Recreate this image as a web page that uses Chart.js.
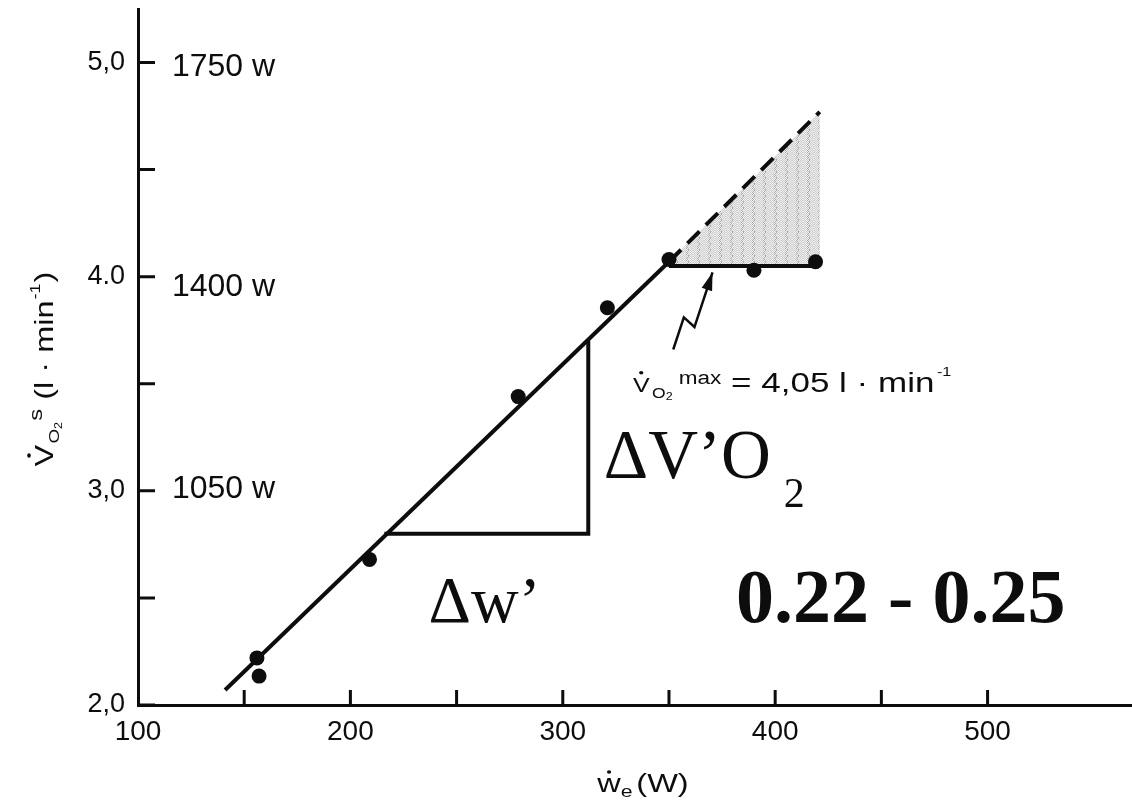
<!DOCTYPE html>
<html>
<head>
<meta charset="utf-8">
<script src="https://cdn.jsdelivr.net/npm/chart.js@4"></script>
<style>html,body{margin:0;background:#fff}</style>
</head>
<body>
<canvas id="c" width="1132" height="800"></canvas>
<script>
// Measured steady-state oxygen uptake against external work rate
const workW = [156, 157, 209, 279, 321, 350, 390, 419];
const vo2   = [2.22, 2.135, 2.68, 3.44, 3.855, 4.08, 4.03, 4.07];

// Linear fit up to the kink, and its dashed extrapolation
const fitW = [141, 350];
const fitV = [2.07, 4.07];
const extW = [350, 421];
const extV = [4.07, 4.77];

// Plateau at maximal oxygen uptake
const vo2Max = 4.05;
const plateauW = [350, 420];

// Slope triangle (Δw', ΔV'O2)
const slopeW = [216, 312, 312];
const slopeV = [2.80, 2.80, 3.70];

// Zig-zag pointer to the plateau
const arrowW = [352, 357, 362, 370.5];
const arrowV = [3.66, 3.81, 3.765, 4.02];

// Axis ticks
const xTickValues = [100, 200, 300, 400, 500];
const xTickLabels = ['100', '200', '300', '400', '500'];
const yTickValues = [2, 3, 4, 5];
const yTickLabels = ['2,0', '3,0', '4.0', '5,0'];

// Power equivalents written next to the y axis
const powerLabels = ['1050 w', '1400 w', '1750 w'];
const powerW = 116;
const powerV = [3.01, 3.95, 4.98];

const ink = '#0d0d0d';
const sans = '"Liberation Sans", Arial, sans-serif';
const serif = '"Liberation Serif", "Times New Roman", serif';

const pairs = (xs, ys) => xs.map((x, i) => ({ x, y: ys[i] }));

// grey stipple with darker vertical streaks
function stipple() {
  const c = document.createElement('canvas');
  c.width = 11; c.height = 6;
  const g = c.getContext('2d');
  g.fillStyle = '#eeeeee';
  g.fillRect(0, 0, 11, 6);
  g.fillStyle = '#cfcfcf';
  for (let yy = 0; yy < 6; yy++) {
    for (let xx = (yy % 2); xx < 11; xx += 2) g.fillRect(xx, yy, 1, 1);
  }
  g.fillStyle = '#a8a8a8';
  g.fillRect(4, 0, 1, 1); g.fillRect(5, 1, 1, 1); g.fillRect(4, 2, 1, 1);
  g.fillRect(6, 3, 1, 1); g.fillRect(6, 4, 1, 1); g.fillRect(5, 5, 1, 1);
  return g.createPattern(c, 'repeat');
}

// draws a sequence of text runs (sub/superscripts, dotted letters) left to right
function runsWidth(ctx, runs) {
  let w = 0;
  for (const r of runs) { ctx.font = r.font; w += (r.dx || 0) + ctx.measureText(r.text).width; }
  return w;
}
function drawRuns(ctx, runs) {
  let cx = 0;
  for (const r of runs) {
    ctx.font = r.font;
    cx += r.dx || 0;
    const w = ctx.measureText(r.text).width;
    const dy = r.dy || 0;
    ctx.fillText(r.text, cx, dy);
    if (r.dot) {
      ctx.beginPath();
      ctx.arc(cx + w / 2, dy - r.dot.h, r.dot.r, 0, Math.PI * 2);
      ctx.fill();
    }
    cx += w;
  }
}

const innerTicks = {
  id: 'innerTicks',
  afterDatasetsDraw(chart) {
    const { ctx, chartArea: a, scales: { x, y } } = chart;
    ctx.save();
    ctx.strokeStyle = ink;
    ctx.lineWidth = 3;
    ctx.beginPath();
    for (const t of y.ticks) {
      const p = y.getPixelForValue(t.value);
      ctx.moveTo(a.left, p); ctx.lineTo(a.left + 17, p);
    }
    for (const t of x.ticks) {
      if (t.value === x.min) continue;
      const p = x.getPixelForValue(t.value);
      ctx.moveTo(p, a.bottom); ctx.lineTo(p, a.bottom - 15);
    }
    ctx.stroke();
    ctx.restore();
  }
};

const notes = {
  id: 'notes',
  afterDatasetsDraw(chart) {
    const { ctx, chartArea: a, scales: { x, y } } = chart;
    const px = v => x.getPixelForValue(v);
    const py = v => y.getPixelForValue(v);
    const stretch = 1.25;
    ctx.save();
    ctx.fillStyle = ink;

    // power equivalents
    ctx.font = `32px ${sans}`;
    ctx.textBaseline = 'middle';
    ctx.textAlign = 'left';
    powerLabels.forEach((t, i) => ctx.fillText(t, px(powerW), py(powerV[i])));
    ctx.textBaseline = 'alphabetic';

    // V'O2max label
    const maxRuns = [
      { text: 'V', font: `20px ${sans}`, dot: { h: 19, r: 1.7 } },
      { text: 'O', font: `14px ${sans}`, dy: 6, dx: 2 },
      { text: '2', font: `10px ${sans}`, dy: 8 },
      { text: 'max', font: `18px ${sans}`, dy: -8, dx: 5 },
      { text: ' = ', font: `28px ${sans}` },
      { text: (vo2Max.toFixed(2)).replace('.', ','), font: `28px ${sans}` },
      { text: ' l · min', font: `28px ${sans}` },
      { text: '-1', font: `13px ${sans}`, dy: -16, dx: 2 }
    ];
    ctx.save();
    ctx.translate(px(333), py(3.463));
    ctx.scale(stretch, 1);
    drawRuns(ctx, maxRuns);
    ctx.restore();

    // slope triangle labels
    ctx.font = `69px ${serif}`;
    const dv = 'ΔV’O';
    ctx.fillText(dv, px(319.3), py(3.061));
    const dvEnd = px(319.3) + ctx.measureText(dv).width;
    ctx.font = `42px ${serif}`;
    ctx.fillText('2', dvEnd + 13, py(2.925));
    ctx.font = `66px ${serif}`;
    ctx.fillText('Δw’', px(236.8), py(2.388));
    ctx.font = `bold 76px ${serif}`;
    ctx.fillText('0.22 - 0.25', px(381.6), py(2.388));

    // arrow head on the zig-zag pointer
    const n = arrowW.length;
    const tx = px(arrowW[n - 1]), ty = py(arrowV[n - 1]);
    const fx = px(arrowW[n - 2]), fy = py(arrowV[n - 2]);
    const ang = Math.atan2(ty - fy, tx - fx);
    const L = 18, W = 5.5;
    ctx.beginPath();
    ctx.moveTo(tx, ty);
    ctx.lineTo(tx - L * Math.cos(ang) + W * Math.sin(ang), ty - L * Math.sin(ang) - W * Math.cos(ang));
    ctx.lineTo(tx - L * Math.cos(ang) - W * Math.sin(ang), ty - L * Math.sin(ang) + W * Math.cos(ang));
    ctx.closePath();
    ctx.fill();

    // x axis title
    const xRuns = [
      { text: 'w', font: `26px ${sans}`, dot: { h: 20, r: 1.7 } },
      { text: 'e', font: `17px ${sans}`, dy: 5 },
      { text: '(W)', font: `26px ${sans}`, dx: 3 }
    ];
    ctx.save();
    const xw = runsWidth(ctx, xRuns) * stretch;
    ctx.translate((a.left + a.right) / 2 - xw / 2 + 8, chart.height - 8);
    ctx.scale(stretch, 1);
    drawRuns(ctx, xRuns);
    ctx.restore();

    // y axis title (rotated)
    const yRuns = [
      { text: 'V', font: `26px ${sans}`, dot: { h: 24, r: 1.8 } },
      { text: 'O', font: `15px ${sans}`, dy: 6, dx: 1 },
      { text: '2', font: `10px ${sans}`, dy: 9 },
      { text: 's', font: `19px ${sans}`, dy: -11, dx: 1 },
      { text: ' (l · min', font: `26px ${sans}` },
      { text: '-1', font: `14px ${sans}`, dy: -13, dx: 1 },
      { text: ')', font: `26px ${sans}`, dx: 1 }
    ];
    ctx.save();
    const yw = runsWidth(ctx, yRuns) * stretch;
    ctx.translate(53, (a.top + a.bottom) / 2 + 12);
    ctx.rotate(-Math.PI / 2);
    ctx.translate(-yw / 2, 0);
    ctx.scale(stretch, 1);
    drawRuns(ctx, yRuns);
    ctx.restore();

    ctx.restore();
  }
};

const lineStyle = {
  showLine: true, borderColor: ink, pointRadius: 0, borderWidth: 4,
  borderCapStyle: 'butt', borderJoinStyle: 'miter', tension: 0
};

new Chart(document.getElementById('c'), {
  type: 'scatter',
  data: {
    datasets: [
      { data: pairs(workW, vo2), pointRadius: 7.5, pointBackgroundColor: ink,
        pointBorderWidth: 0, borderColor: ink, showLine: false, order: 0 },
      { ...lineStyle, data: pairs(fitW, fitV), order: 1 },
      { ...lineStyle, data: pairs(extW, extV), borderDash: [17, 9],
        fill: { value: vo2Max }, backgroundColor: stipple(), order: 3 },
      { ...lineStyle, data: pairs(plateauW, plateauW.map(() => vo2Max)), order: 1 },
      { ...lineStyle, data: pairs(slopeW, slopeV), order: 1 },
      { ...lineStyle, data: pairs(arrowW, arrowV), borderWidth: 2.5, order: 1 }
    ]
  },
  options: {
    responsive: false,
    animation: false,
    events: [],
    layout: { autoPadding: false, padding: { top: 9, right: 0, left: 0, bottom: 0 } },
    plugins: { legend: { display: false }, tooltip: { enabled: false } },
    scales: {
      x: {
        type: 'linear', min: 100, max: 568,
        afterFit: s => { s.height = 95; s.paddingLeft = 0; s.paddingRight = 0; },
        afterBuildTicks: s => { s.ticks = s.ticks.filter(t => t.value % 50 === 0); },
        grid: { display: false, drawTicks: false },
        border: { display: true, width: 3, color: ink },
        ticks: {
          stepSize: 50, autoSkip: false, maxRotation: 0, padding: 10, color: ink,
          font: { family: sans, size: 28 },
          callback: v => { const i = xTickValues.indexOf(v); return i >= 0 ? xTickLabels[i] : ''; }
        }
      },
      y: {
        type: 'linear', min: 2, max: 5.25,
        afterFit: s => { s.width = 138; s.paddingTop = 0; s.paddingBottom = 0; },
        afterBuildTicks: s => {
          s.ticks = s.ticks.filter(t => Math.abs(t.value * 2 - Math.round(t.value * 2)) < 1e-6 && t.value <= 5);
        },
        grid: { display: false, drawTicks: false },
        border: { display: true, width: 3, color: ink },
        ticks: {
          stepSize: 0.5, autoSkip: false, padding: 13, color: ink,
          font: { family: sans, size: 27 },
          callback: v => { const i = yTickValues.indexOf(v); return i >= 0 ? yTickLabels[i] : ''; }
        }
      }
    }
  },
  plugins: [innerTicks, notes]
});
</script>
</body>
</html>
